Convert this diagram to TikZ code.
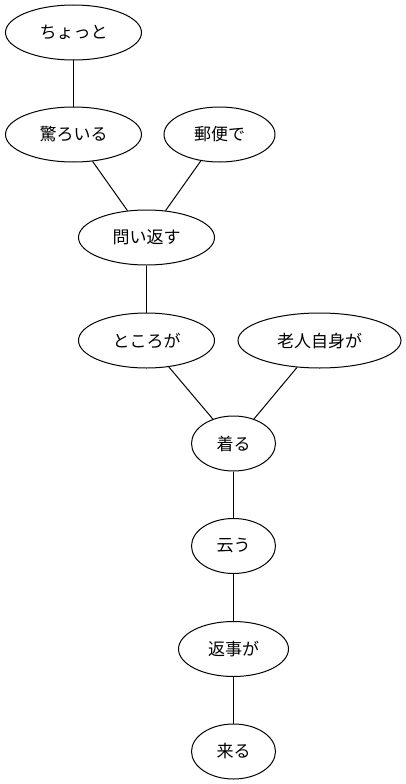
\documentclass[tikz,border=0pt]{standalone}
\usepackage{fontspec}
\setmainfont{Noto Sans CJK JP}
\usepackage{tikz}
\usetikzlibrary{shapes.geometric}

\begin{document}
\begin{tikzpicture}[x=1pt,y=-1pt,
        word/.style={draw,ellipse,line width=1pt,inner sep=0pt,minimum height=55pt,font=\fontsize{17}{17}\selectfont},
        link/.style={line width=1pt}]
        \useasboundingbox (0,0) rectangle (406,784);

        %top rows
        \node[word,minimum width=136pt] (chotto) at (73.5,32.5) {ちょっと};
        \node[word,minimum width=136pt] (odoroiru) at (73.5,134.5) {驚ろいる};
        \node[word,minimum width=111pt] (yubin) at (219.5,134.5) {郵便で};
        \node[word,minimum width=136pt] (toikaesu) at (146.5,237.5) {問い返す};

        %middle rows
        \node[word,minimum width=136pt] (tokoroga) at (146.5,340.5) {ところが};
        \node[word,minimum width=163pt] (rojin) at (319.5,340.5) {老人自身が};
        \node[word,minimum width=84pt] (tsuku) at (233.5,443.5) {着る};

        %bottom chain
        \node[word,minimum width=84pt] (iu) at (233.5,546) {云う};
        \node[word,minimum width=110pt] (henji) at (233.5,649) {返事が};
        \node[word,minimum width=84pt] (kuru) at (233.5,751.5) {来る};

        %edges
        \draw[link] (chotto) -- (odoroiru);
        \draw[link] (odoroiru) -- (toikaesu);
        \draw[link] (yubin) -- (toikaesu);
        \draw[link] (toikaesu) -- (tokoroga);
        \draw[link] (tokoroga) -- (tsuku);
        \draw[link] (rojin) -- (tsuku);
        \draw[link] (tsuku) -- (iu);
        \draw[link] (iu) -- (henji);
        \draw[link] (henji) -- (kuru);
\end{tikzpicture}
\end{document}
